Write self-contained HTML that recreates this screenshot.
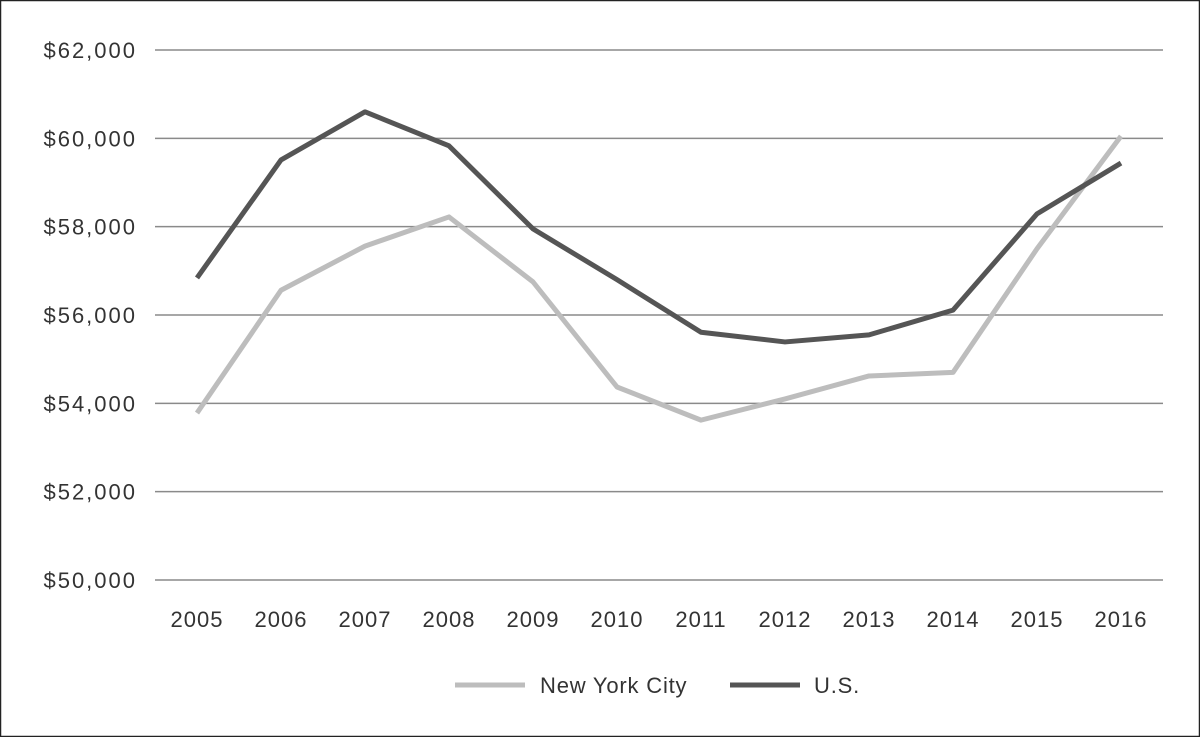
<!DOCTYPE html>
<html><head><meta charset="utf-8"><style>
body{margin:0;background:#fff}
svg{display:block;font-family:"Liberation Sans",sans-serif}
</style></head><body>
<svg id="chart" width="1200" height="737" viewBox="0 0 1200 737">
<rect x="0.5" y="0.5" width="1199" height="736" fill="#fff" stroke="#222" stroke-width="1.5"/>
<g id="grid"></g><g id="xl"></g><g id="lines"></g>
<g>
<line x1="455" y1="685" x2="525" y2="685" stroke="#bdbdbd" stroke-width="5"/>
<text x="540" y="693" font-size="22" fill="#333" letter-spacing="0.8">New York City</text>
<line x1="730" y1="685" x2="800" y2="685" stroke="#555" stroke-width="5"/>
<text x="814" y="693" font-size="22" fill="#333" letter-spacing="0.8">U.S.</text>
</g>
</svg>
<script>
const years=["2005","2006","2007","2008","2009","2010","2011","2012","2013","2014","2015","2016"];
const nyc=[53780,56560,57560,58220,56750,54370,53620,54100,54620,54700,57500,60050];
const us=[56840,59510,60600,59830,57950,56800,55610,55390,55550,56110,58290,59440];
const yTicks=[50000,52000,54000,56000,58000,60000,62000];
const NS="http://www.w3.org/2000/svg";
const x0=197,x1=1121,yMin=50000,yMax=62000,yTop=50,yBot=580;
const xs=i=>x0+i*(x1-x0)/(years.length-1);
const ys=v=>yBot-(v-yMin)/(yMax-yMin)*(yBot-yTop);
function mk(t,a,p){const e=document.createElementNS(NS,t);for(const k in a)e.setAttribute(k,a[k]);p.appendChild(e);return e;}
const g=document.getElementById('grid');
yTicks.forEach(v=>{
const l=mk('line',{x1:155,x2:1163,y1:ys(v),y2:ys(v),stroke:'#8a8a8a','stroke-width':1.5},g);


const t=mk('text',{x:137,y:ys(v)+8,'text-anchor':'end','font-size':22,fill:'#333','letter-spacing':2},g);


t.textContent='$'+v.toLocaleString('en-US');
});
const xl=document.getElementById('xl');
years.forEach((y,i)=>{
const t=mk('text',{x:xs(i),y:627,'text-anchor':'middle','font-size':22,fill:'#333','letter-spacing':1},xl);


t.textContent=y;
});
const lg=document.getElementById('lines');
[[nyc,'#bdbdbd','nyc-line'],[us,'#555','us-line']].forEach(([d,c,n])=>{
const p=mk('polyline',{points:d.map((v,i)=>xs(i)+','+ys(v)).join(' '),fill:'none',stroke:c,'stroke-width':5,'stroke-linejoin':'round'},lg);


});
</script>
</body></html>
